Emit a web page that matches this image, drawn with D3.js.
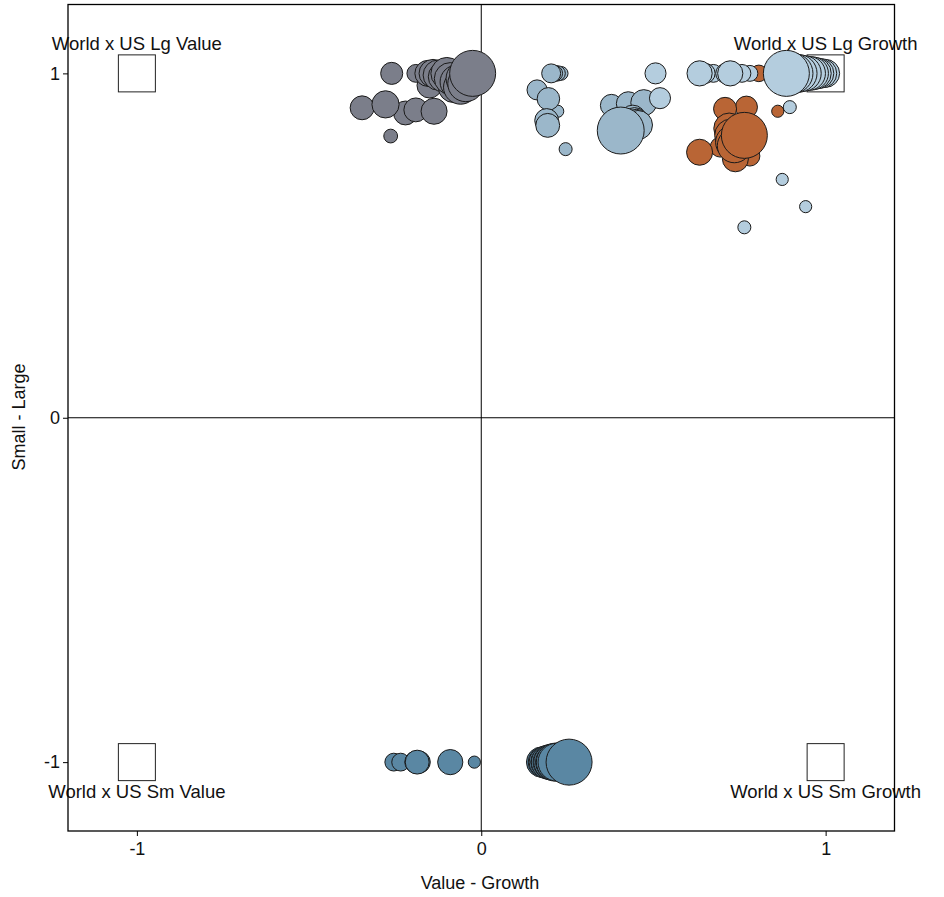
<!DOCTYPE html>
<html><head><meta charset="utf-8">
<script src="https://cdn.jsdelivr.net/npm/d3@7"></script>
<style>
body{margin:0;background:#fff;}
text{font-family:"Liberation Sans",Arial,Helvetica,sans-serif;fill:#111;}
</style></head>
<body><svg id="chart" width="944" height="897"></svg>
<script>
// ---- data: [value-growth, small-large, weight] ----
const lgValueFunds = [
  [-0.26,1.0,23],[-0.19,1.0,15],[-0.346,0.90,27],[-0.278,0.91,35],[-0.22,0.885,27],
  [-0.19,0.894,27],[-0.137,0.89,32],[-0.263,0.818,9],
  [-0.155,1.0,32],[-0.14,1.0,37],[-0.125,0.995,43],[-0.11,0.99,43],[-0.15,0.965,30],
  [-0.10,1.0,48],[-0.09,0.985,48],[-0.08,0.96,45],[-0.07,0.975,55],[-0.06,0.96,55],
  [-0.05,0.985,61],[-0.045,0.97,61],[-0.025,1.0,100]
];
const lgBlendFunds = [
  [0.203,1.0,17],[0.213,1.0,12],[0.222,1.0,11],[0.232,1.0,9],[0.162,0.952,19],
  [0.195,0.926,24],[0.222,0.89,7],[0.19,0.863,27],[0.193,0.849,27],[0.245,0.78,8],
  [0.378,0.907,23],[0.427,0.912,27],[0.472,0.915,32],
  [0.44,0.87,32],[0.445,0.86,37],[0.45,0.855,37],[0.455,0.85,40],[0.405,0.834,104]
];
const lgGrowthTilt = [
  [0.806,1.0,13],[0.861,0.89,7],[0.708,0.897,25],[0.77,0.902,23],[0.634,0.771,32],
  [0.738,0.752,32],[0.78,0.76,19],[0.694,0.786,19],
  [0.72,0.84,45],[0.725,0.82,50],[0.73,0.80,55],[0.735,0.79,55],[0.764,0.82,100]
];
const lgGrowthFunds = [
  [0.506,1.0,21],[0.519,0.928,21],[0.634,1.0,30],[0.65,1.0,19],[0.674,1.0,15],
  [0.71,1.0,19],[0.723,1.0,30],[0.757,1.0,15],[0.78,1.0,12],
  [1.0,1.0,37],[0.99,1.0,40],[0.98,1.0,43],[0.97,1.0,48],[0.96,1.0,52],[0.95,1.0,55],
  [0.935,1.0,61],[0.92,1.0,68],[0.905,1.0,76],[0.886,1.0,100],
  [0.896,0.902,8],[0.874,0.692,7],[0.942,0.613,7],[0.764,0.553,8]
];
const smallFunds = [
  [-0.254,-1.0,15],[-0.234,-1.0,15],[-0.19,-1.0,23],[-0.18,-1.0,23],[-0.186,-1.0,27],
  [-0.09,-1.0,30],[-0.02,-1.0,7],
  [0.175,-1.0,43],[0.18,-1.0,43],[0.185,-1.0,48],[0.19,-1.0,48],[0.195,-1.0,55],
  [0.2,-1.0,55],[0.205,-1.0,61],[0.21,-1.0,61],[0.215,-1.0,68],[0.22,-1.0,68],
  [0.255,-1.0,100]
];
const seriesList = [lgValueFunds, lgBlendFunds, lgGrowthTilt, lgGrowthFunds, smallFunds];
const seriesColors = ["#7b7e8a","#9bb7ca","#b96535","#b4cdde","#5a87a3"];
const corners = [
  {name:"World x US Lg Value", x:-1, y:1},
  {name:"World x US Lg Growth", x:1, y:1},
  {name:"World x US Sm Value", x:-1, y:-1},
  {name:"World x US Sm Growth", x:1, y:-1}
];
const tickValues = [-1, 0, 1];
const tickLabels = ["-1", "0", "1"];
const xTitle = "Value - Growth";
const yTitle = "Small - Large";

// ---- drawing ----
const svg = d3.select("#chart");
const L = 68, R = 894.5, T = 4.5, B = 831;
const x = d3.scaleLinear().domain([-1.2, 1.2]).range([L, R]);
const y = d3.scaleLinear().domain([-1.2, 1.2]).range([B, T]);
const rScale = d3.scaleSqrt().domain([0, 100]).range([0, 23]);
const fmt = d => tickLabels[tickValues.indexOf(d)];

// zero lines
svg.append("line").attr("x1", x(0)).attr("x2", x(0)).attr("y1", T).attr("y2", B)
  .attr("stroke", "#000").attr("stroke-width", 1);
svg.append("line").attr("x1", L).attr("x2", R).attr("y1", y(0)).attr("y2", y(0))
  .attr("stroke", "#000").attr("stroke-width", 1);

// corner boxes
const box = 37;
svg.append("g").selectAll("rect").data(corners).join("rect")
  .attr("x", d => x(d.x) - box/2).attr("y", d => y(d.y) - box/2)
  .attr("width", box).attr("height", box)
  .attr("fill", "none").attr("stroke", "#222").attr("stroke-width", 1);

// bubbles
const g = svg.append("g");
seriesList.forEach((s, i) => {
  const sorted = s.slice().sort((a, b) => a[2] - b[2]);
  g.append("g").selectAll("circle").data(sorted).join("circle")
    .attr("cx", d => x(d[0])).attr("cy", d => y(d[1])).attr("r", d => rScale(d[2]))
    .attr("fill", seriesColors[i]).attr("stroke", "#1a1a1a").attr("stroke-width", 1);
});

// corner labels
svg.append("g").selectAll("text").data(corners).join("text")
  .attr("x", d => x(d.x))
  .attr("y", d => d.y > 0 ? y(d.y) - box/2 - 4.5 : y(d.y) + box/2 + 17.5)
  .attr("text-anchor", "middle").attr("font-size", 18.5)
  .text(d => d.name);

// frame
svg.append("rect").attr("x", L).attr("y", T).attr("width", R - L).attr("height", B - T)
  .attr("fill", "none").attr("stroke", "#000").attr("stroke-width", 1.3);

// axes
const xAxis = svg.append("g").attr("transform", `translate(0,${B})`)
  .call(d3.axisBottom(x).tickValues(tickValues).tickFormat(fmt).tickSize(5).tickPadding(6));
const yAxis = svg.append("g").attr("transform", `translate(${L},0)`)
  .call(d3.axisLeft(y).tickValues(tickValues).tickFormat(fmt).tickSize(5).tickPadding(3));
[xAxis, yAxis].forEach(a => {
  a.select(".domain").remove();
  a.selectAll("text").attr("font-size", 18).attr("fill", "#111")
    .attr("font-family", '"Liberation Sans",Arial,sans-serif');
  a.selectAll("line").attr("stroke", "#000");
});

// titles
svg.append("text").attr("x", 480).attr("y", 889).attr("text-anchor", "middle")
  .attr("font-size", 18).text(xTitle);
svg.append("text").attr("transform", "translate(25,417) rotate(-90)")
  .attr("text-anchor", "middle").attr("font-size", 18).text(yTitle);
</script></body></html>
